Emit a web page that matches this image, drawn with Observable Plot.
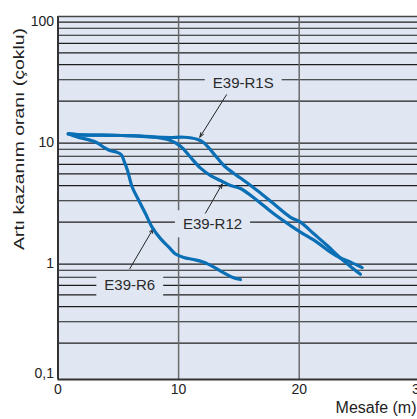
<!DOCTYPE html>
<html>
<head>
<meta charset="utf-8">
<script src="https://cdn.jsdelivr.net/npm/d3@7"></script>
<script src="https://cdn.jsdelivr.net/npm/@observablehq/plot@0.6"></script>
<style>
  html, body { margin: 0; padding: 0; background: white; overflow: hidden; }
</style>
</head>
<body>
<div id="chart"></div>
<script>
// ---- data ----
const xTicks = [0, 10, 20, 30];
const yTicks = [0.1, 1, 10, 100];
const yTickLabels = ["0,1", "1", "10", "100"];
const gridYValues = [0.2, 0.3, 0.4, 0.5, 0.6, 0.7, 0.8, 0.9, 2, 3, 4, 5, 6, 7, 8, 9, 20, 30, 40, 50, 60, 70, 80, 90];
const gridXValues = [10, 20];
const xTitle = "Mesafe (m)";
const yTitle = "Artı kazanım oranı (çoklu)";

const seriesNames = ["E39-R1S", "E39-R12", "E39-R6"];

const r1s = [[0.85,10.73],[1.87,10.53],[5.32,10.39],[8.04,10.06],[9.33,10.0],[10.43,10.05],[11.54,9.66],[12.09,9.04],[12.92,7.33],[13.75,5.87],[14.58,5.04],[15.13,4.63],[16.52,3.65],[17.89,2.83],[19.28,2.19],[20.11,2.0],[21.21,1.60],[22.32,1.28],[23.42,1.01],[24.25,0.86],[25.08,0.74]];
const r12 = [[0.85,10.73],[1.87,10.53],[5.32,10.39],[8.04,10.06],[9.33,9.45],[10.16,8.48],[10.99,6.87],[11.82,5.58],[12.65,4.85],[13.47,4.41],[14.30,4.01],[15.13,3.79],[16.52,3.02],[17.89,2.34],[19.28,1.87],[20.11,1.65],[21.49,1.36],[22.59,1.13],[23.42,1.01],[23.98,0.96],[25.22,0.84]];
const r6 = [[0.85,10.73],[1.6,10.1],[2.5,9.6],[3.2,9.1],[3.8,8.3],[4.3,7.8],[4.9,7.55],[5.25,7.2],[5.5,6.3],[5.75,5.4],[6.15,3.9],[6.7,3.02],[7.26,2.34],[7.81,1.81],[8.5,1.46],[9.19,1.24],[9.74,1.09],[10.43,1.02],[11.26,0.98],[12.09,0.93],[12.92,0.85],[13.75,0.76],[14.44,0.70],[15.13,0.67]];

// label anchor (x, y) and arrow from (x1,y1) to (x2,y2)
const labelX = [15.36, 12.81, 5.95];
const labelY = [28.1, 1.91, 0.598];
const arrowX1 = [13.97, 12.23, 5.95];
const arrowY1 = [22.54, 2.37, 0.822];
const arrowX2 = [11.76, 13.62, 7.89];
const arrowY2 = [10.06, 4.14, 1.76];

// ---- build tables ----
const curves = [r1s, r12, r6].flatMap((arr, i) => arr.map(([x, y]) => ({series: seriesNames[i], x, y})));
const labels = seriesNames.map((name, i) => ({name, x: labelX[i], y: labelY[i]}));
const arrows = seriesNames.map((name, i) => ({x1: arrowX1[i], y1: arrowY1[i], x2: arrowX2[i], y2: arrowY2[i]}));

const bg = "#e0e7f3";
const blue = "#0b6fb6";
const fmtY = d => yTickLabels[yTicks.indexOf(d)];

const chart = Plot.plot({
  width: 417,
  height: 419,
  marginLeft: 57.5,
  marginRight: 0,
  marginTop: 16,
  marginBottom: 40,
  style: {fontFamily: "'Liberation Sans', Arial, sans-serif", fontSize: "14px", color: "#222", background: "white", overflow: "visible"},
  x: {type: "linear", domain: [0, 30], range: [57.5, 419.3], axis: null},
  y: {type: "log", domain: [0.1, 100], range: [379, 16], axis: null},
  marks: [
    Plot.frame({fill: bg, stroke: null}),
    Plot.ruleY(gridYValues, {stroke: "#1e1e1e", strokeWidth: 1.2}),
    Plot.ruleX(gridXValues, {stroke: "#6a6a6a", strokeWidth: 1.5}),
    Plot.text(labels, {x: "x", y: "y", text: "name", fontSize: 15, fill: "#2a2a2a"}),
    Plot.arrow(arrows, {x1: "x1", y1: "y1", x2: "x2", y2: "y2", stroke: "#222", strokeWidth: 1, headLength: 7, headAngle: 40}),
    Plot.line(curves, {x: "x", y: "y", z: "series", stroke: blue, strokeWidth: 3.2, curve: "catmull-rom"}),
    Plot.ruleX([0], {stroke: "#333", strokeWidth: 2}),
    Plot.ruleY([0.1], {stroke: "#333", strokeWidth: 2}),
    Plot.ruleY([100], {stroke: "#444", strokeWidth: 1.5}),
    Plot.axisX({ticks: xTicks, tickSize: 0, tickPadding: 5, fontSize: 14, label: null, fill: "#222"}),
    Plot.axisY({ticks: yTicks.filter(d => d >= 1), tickSize: 0, tickPadding: 4, dy: 5.5, tickFormat: fmtY, fontSize: 14, label: null, fill: "#222"}),
    Plot.axisY({ticks: yTicks.filter(d => d < 1), tickSize: 0, tickPadding: 4, dy: -5.5, tickFormat: fmtY, fontSize: 14, label: null, fill: "#222"}),
    Plot.text([xTitle], {text: d => d, frameAnchor: "bottom-right", textAnchor: "end", lineAnchor: "middle", dx: -1, dy: 28, fontSize: 16, fill: "#222"}),
    Plot.text([yTitle], {text: d => d, frameAnchor: "top-left", textAnchor: "middle", lineAnchor: "middle", rotate: -90, dx: -38.5, dy: 122.5, fontSize: 15, fill: "#222"})
  ]
});

document.getElementById("chart").append(chart);

// boxes behind the series labels (they interrupt the grid lines)
const svgns = "http://www.w3.org/2000/svg";
d3.select(chart).selectAll("text")
  .filter(function() { return seriesNames.includes(this.textContent); })
  .each(function() {
    const b = this.getBBox();
    const padX = 8, padY = 5;
    const r = document.createElementNS(svgns, "rect");
    r.setAttribute("x", b.x - padX);
    r.setAttribute("y", b.y - padY);
    r.setAttribute("width", b.width + 2 * padX);
    r.setAttribute("height", b.height + 2 * padY);
    r.setAttribute("fill", bg);
    r.setAttribute("stroke", "none");
    const t = this.getAttribute("transform");
    if (t) r.setAttribute("transform", t);
    this.parentNode.insertBefore(r, this);
  });

// stretch y title to the reference length
d3.select(chart).selectAll("text")
  .filter(function() { return this.textContent === yTitle; })
  .attr("textLength", 222)
  .attr("lengthAdjust", "spacingAndGlyphs");
</script>
</body>
</html>
